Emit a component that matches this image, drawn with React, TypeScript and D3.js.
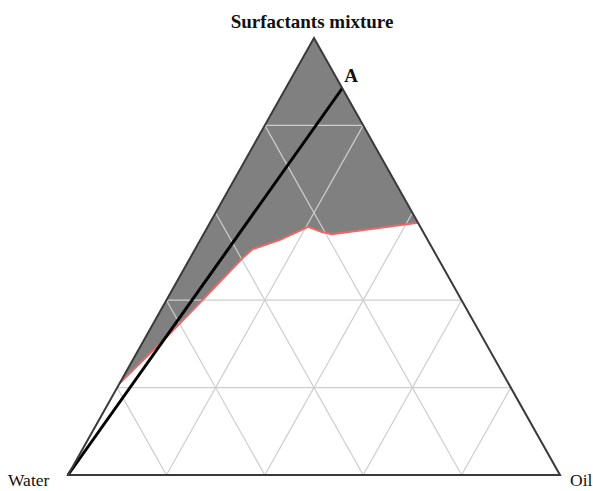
import React from "react";
import * as d3 from "d3";

// Ternary data: [oil, surfactant] fractions, water = 1 - oil - surf
const vertexLabels = ["Water", "Oil", "Surfactants mixture"];
const gridLevels = [0.2, 0.4, 0.6, 0.8];

// boundary of the gray (one phase) region
const boundaryOil = [0, 0.043, 0.071, 0.107, 0.117, 0.162, 0.204, 0.238, 0.261, 0.423];
const boundarySurf = [0.21, 0.316, 0.394, 0.497, 0.517, 0.538, 0.568, 0.556, 0.551, 0.577];

// dilution line A: from water corner to the oil-surfactant edge
const lineAOil = [0, 0.115];
const lineASurf = [0, 0.885];
const lineALabel = "A";

const W = 593, H = 491;

const App = () => {
  // scales for the triangle
  const xScale = d3.scaleLinear().domain([0, 1]).range([68, 560]);
  const yScale = d3.scaleLinear().domain([0, 1]).range([475, 38]);

  // project (oil, surf) to screen
  const px = (oil: number, surf: number) => xScale(oil + surf / 2);
  const py = (surf: number) => yScale(surf);
  const pt = (oil: number, surf: number): [number, number] => [px(oil, surf), py(surf)];

  const line = d3.line<[number, number]>();

  const tri = line([pt(0, 0), pt(1, 0), pt(0, 1), pt(0, 0)]) + "Z";

  // gray region: apex, down left edge to boundary start, along boundary, back up right edge
  const regionPts: [number, number][] = [pt(0, 1)];
  boundaryOil.forEach((o, i) => regionPts.push(pt(o, boundarySurf[i])));
  const region = line(regionPts) + "Z";
  const boundary = line(boundaryOil.map((o, i) => pt(o, boundarySurf[i])));

  // grid lines
  const grid: [number, number][][] = [];
  gridLevels.forEach((g) => {
    // constant surfactant (horizontal) - 0.6 is hidden under the gray fill
    if (g !== 0.6) grid.push([pt(0, g), pt(1 - g, g)]);
    // constant water
    grid.push([pt(0, 1 - g), pt(1 - g, 0)]);
    // constant oil
    grid.push([pt(g, 0), pt(g, 1 - g)]);
  });

  const lineA = line(lineAOil.map((o, i) => pt(o, lineASurf[i])));
  const aEnd = pt(lineAOil[1], lineASurf[1]);

  const font = "'Liberation Serif', 'Times New Roman', serif";

  return (
    <div style={{ position: "fixed", left: 0, top: 0 }}>
      <svg width={W} height={H} style={{ display: "block", background: "#fff" }}>
        <path d={region} fill="#808080" stroke="none" />
        {grid.map((g, i) => (
          <path key={i} d={line(g) as string} stroke="#cdcdcd" strokeWidth={1.2} fill="none" />
        ))}
        <path d={boundary as string} stroke="#f26565" strokeWidth={2} fill="none" />
        <path d={lineA as string} stroke="#000" strokeWidth={3} fill="none" />
        <path d={tri} stroke="#3a3a3a" strokeWidth={2} fill="none" strokeLinejoin="miter" />
        <text x={aEnd[0] + 2} y={aEnd[1] - 6} fontFamily={font} fontWeight="bold" fontSize={19} fill="#111">
          {lineALabel}
        </text>
        <text x={312} y={28} textAnchor="middle" fontFamily={font} fontWeight="bold" fontSize={19} fill="#111">
          {vertexLabels[2]}
        </text>
        <text x={8} y={486} fontFamily={font} fontSize={17.5} fill="#111">
          {vertexLabels[0]}
        </text>
        <text x={570} y={486} fontFamily={font} fontSize={17.5} fill="#111">
          {vertexLabels[1]}
        </text>
      </svg>
    </div>
  );
};

export default App;
